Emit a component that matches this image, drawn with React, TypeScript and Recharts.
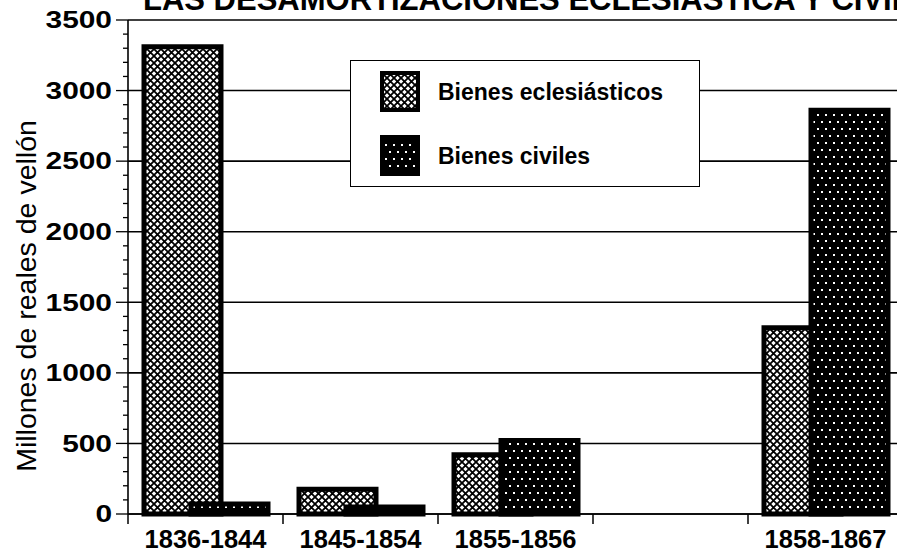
import { Bar, BarChart, CartesianGrid, Legend, XAxis, YAxis } from "recharts";

const categories = ["1836-1844", "1845-1854", "1855-1856", "", "1858-1867"];
const eclesiasticos = [3310, 175, 420, null, 1320];
const civiles = [70, 50, 520, null, 2860];
const majorTicks = [0, 500, 1000, 1500, 2000, 2500, 3000, 3500];
const allTicks = [
  0, 100, 200, 300, 400, 500, 600, 700, 800, 900, 1000, 1100, 1200, 1300, 1400, 1500, 1600, 1700,
  1800, 1900, 2000, 2100, 2200, 2300, 2400, 2500, 2600, 2700, 2800, 2900, 3000, 3100, 3200, 3300,
  3400, 3500,
];

const data = categories.map((periodo, i) => ({
  periodo,
  ecl: eclesiasticos[i],
  civ: civiles[i],
}));

const FONT = '"Liberation Sans", Arial, sans-serif';

function YTick({ x, y, payload }: any) {
  const major = majorTicks.includes(payload.value);
  return (
    <g>
      <line x1={x - (major ? 12 : 5)} x2={x} y1={y} y2={y} stroke="#000" strokeWidth={1.3} />
      {major && (
        <text
          transform={`translate(${x - 16},${y}) scale(1.3,1)`}
          textAnchor="end"
          dy="0.36em"
          fontSize={23}
          fontWeight="bold"
          fontFamily={FONT}
          fill="#000"
        >
          {payload.value}
        </text>
      )}
    </g>
  );
}

function XTick({ x, y, payload }: any) {
  return (
    <g>
      <line x1={x - 77.5} x2={x - 77.5} y1={y} y2={y + 10} stroke="#000" strokeWidth={1.5} />
      <text
        x={x}
        y={y + 34}
        textAnchor="middle"
        fontSize={25.5}
        fontWeight="bold"
        fontFamily={FONT}
        fill="#000"
      >
        {payload.value}
      </text>
    </g>
  );
}

function YLabel({ viewBox }: any) {
  const cy = viewBox.y + viewBox.height / 2 + 29;
  return (
    <text
      transform={`translate(36,${cy}) rotate(-90)`}
      textAnchor="middle"
      fontSize={28.5}
      fontFamily={FONT}
      fill="#000"
    >
      Millones de reales de vellón
    </text>
  );
}

function Swatch({ fill }: { fill: string }) {
  return (
    <svg width={40} height={41} style={{ display: "block" }}>
      <rect x={2} y={2} width={36} height={37} fill={fill} stroke="#000" strokeWidth={4} />
    </svg>
  );
}

function LegendBox() {
  const textStyle = {
    position: "absolute" as const,
    left: 87,
    fontSize: 23,
    fontWeight: "bold" as const,
    fontFamily: FONT,
    color: "#000",
    lineHeight: "26px",
    whiteSpace: "nowrap" as const,
  };
  return (
    <div
      style={{
        position: "relative",
        width: 350,
        height: 127,
        boxSizing: "border-box",
        border: "1.5px solid #000",
        background: "#fff",
      }}
    >
      <div style={{ position: "absolute", left: 29, top: 10 }}>
        <Swatch fill="url(#eclPattern)" />
      </div>
      <div style={{ ...textStyle, top: 18 }}>Bienes eclesiásticos</div>
      <div style={{ position: "absolute", left: 29, top: 74 }}>
        <Swatch fill="url(#civPattern)" />
      </div>
      <div style={{ ...textStyle, top: 82 }}>Bienes civiles</div>
    </div>
  );
}

export default function App() {
  return (
    <div
      style={{
        position: "absolute",
        left: 0,
        top: 0,
        width: 897,
        height: 556,
        overflow: "hidden",
        background: "#fff",
      }}
    >
      <BarChart
        width={920}
        height={556}
        data={data}
        margin={{ top: 20, right: 17, left: 0, bottom: 0 }}
        barSize={77}
        barGap={-30}
      >
        <defs>
          <pattern id="eclPattern" width={7} height={7} patternUnits="userSpaceOnUse">
            <rect width={7} height={7} fill="#fff" />
            <path d="M0 0L7 7M7 0L0 7" stroke="#000" strokeWidth={1.8} />
          </pattern>
          <pattern id="civPattern" width={8} height={14} patternUnits="userSpaceOnUse">
            <rect width={8} height={14} fill="#000" />
            <rect x={1} y={2} width={2} height={2} fill="#fff" />
            <rect x={5} y={9} width={2} height={2} fill="#fff" />
          </pattern>
        </defs>
        <text x={143} y={10} fontSize={31} fontWeight="bold" fontFamily={FONT} fill="#000">
          LAS DESAMORTIZACIONES ECLESIÁSTICA Y CIVIL
        </text>
        <CartesianGrid
          horizontal
          vertical={false}
          horizontalValues={majorTicks}
          stroke="#000"
          strokeWidth={1.6}
        />
        <XAxis
          dataKey="periodo"
          interval={0}
          height={42}
          tickSize={0}
          tickMargin={0}
          axisLine={{ stroke: "#000", strokeWidth: 1.6 }}
          tickLine={false}
          tick={<XTick />}
        />
        <YAxis
          width={128}
          domain={[0, 3500]}
          ticks={allTicks}
          interval={0}
          tickSize={0}
          tickMargin={0}
          axisLine={{ stroke: "#000", strokeWidth: 1.6 }}
          tickLine={false}
          tick={<YTick />}
          label={<YLabel />}
        />
        <Legend
          layout="vertical"
          align="center"
          verticalAlign="middle"
          content={<LegendBox />}
          wrapperStyle={{ position: "absolute", left: 350, top: 60, width: 350, height: 127 }}
        />
        <Bar
          dataKey="ecl"
          name="Bienes eclesiásticos"
          fill="url(#eclPattern)"
          stroke="#000"
          strokeWidth={5}
          isAnimationActive={false}
        />
        <Bar
          dataKey="civ"
          name="Bienes civiles"
          fill="url(#civPattern)"
          stroke="#000"
          strokeWidth={5}
          isAnimationActive={false}
        />
      </BarChart>
    </div>
  );
}
